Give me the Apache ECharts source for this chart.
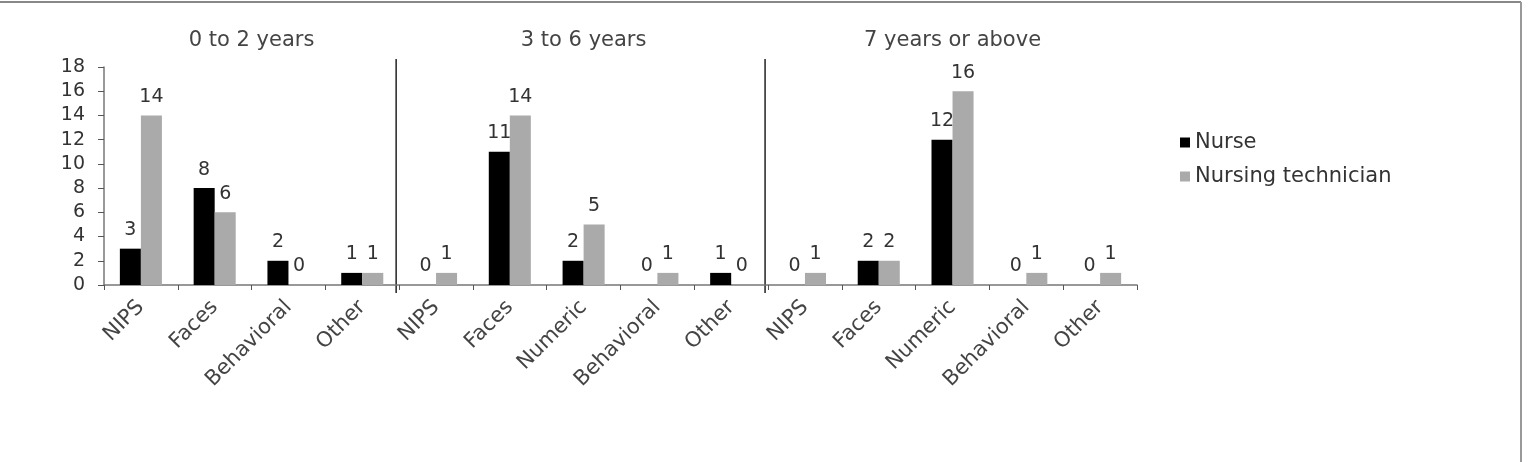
<!DOCTYPE html>
<html>
<head>
<meta charset="utf-8">
<script src="https://cdn.jsdelivr.net/npm/echarts@6/dist/echarts.min.js"></script>
<style>
  html,body{margin:0;padding:0;background:#fff;}
  #chart{width:1529px;height:462px;}
</style>
</head>
<body>
<div id="chart"></div>
<script>
(function(){
    var categories = ['NIPS','Faces','Behavioral','Other',
                      'NIPS','Faces','Numeric','Behavioral','Other',
                      'NIPS','Faces','Numeric','Behavioral','Other'];
    var nurse = [3,8,2,1, 0,11,2,0,1, 0,2,12,0,0];
    var technician = [14,6,0,1, 1,14,5,1,0, 1,2,16,1,1];
    var groups = ['0 to 2 years','3 to 6 years','7 years or above'];
    var groupSizes = [4,5,5];
    var yTicks = {min:0, max:18, interval:2};

    var font = 'DejaVu Sans';
    var chart = echarts.init(document.getElementById('chart'));

    var labelStyle = {
        show:true,
        position:'top',
        distance:9,
        fontFamily:font,
        fontSize:19,
        color:'#333'
    };

    var option = {
        animation:false,
        textStyle:{fontFamily:font},
        grid:{left:104, right:392, top:67, bottom:177},
        legend:{
            orient:'vertical',
            left:1175,
            top:127,
            itemWidth:10,
            itemHeight:10,
            itemGap:13,
            icon:'rect',
            textStyle:{fontFamily:font, fontSize:21, color:'#333'},
            data:['Nurse','Nursing technician']
        },
        xAxis:{
            type:'category',
            data:categories,
            axisLine:{lineStyle:{color:'#777', width:1.5}},
            axisTick:{show:true, interval:0, length:5, lineStyle:{color:'#555'}},
            axisLabel:{interval:0, rotate:45, margin:19, fontFamily:font, fontSize:21, color:'#444'}
        },
        yAxis:{
            type:'value',
            min:yTicks.min,
            max:yTicks.max,
            interval:yTicks.interval,
            axisLine:{show:true, lineStyle:{color:'#777', width:1.5}},
            axisTick:{show:true, length:6, lineStyle:{color:'#555'}},
            splitLine:{show:false},
            axisLabel:{margin:19, fontFamily:font, fontSize:19, color:'#333'}
        },
        series:[
            {
                name:'Nurse',
                type:'bar',
                data:nurse,
                barGap:0,
                barCategoryGap:'43%',
                itemStyle:{color:'#000'},
                label:labelStyle
            },
            {
                name:'Nursing technician',
                type:'bar',
                data:technician,
                barGap:0,
                barCategoryGap:'43%',
                itemStyle:{color:'#aaaaaa'},
                label:labelStyle
            }
        ]
    };
    chart.setOption(option);

    // group separators and titles, placed from the axis
    var graphics = [];
    var start = 0;
    var step = chart.convertToPixel({xAxisIndex:0}, 1) - chart.convertToPixel({xAxisIndex:0}, 0);
    for(var i=0;i<groups.length;i++){
        var end = start + groupSizes[i];
        var left = chart.convertToPixel({xAxisIndex:0}, start) - step/2;
        var right = chart.convertToPixel({xAxisIndex:0}, end-1) + step/2;
        graphics.push({
            type:'text',
            x:(left+right)/2,
            y:41,
            style:{text:groups[i], fill:'#444', font:'21px "DejaVu Sans"', align:'center', verticalAlign:'middle'}
        });
        if(i>0){
            graphics.push({
                type:'line',
                shape:{x1:left-3, y1:59, x2:left-3, y2:293},
                style:{stroke:'#222', lineWidth:1.5}
            });
        }
        start = end;
    }
    // frame lines
    graphics.push({type:'line', shape:{x1:0, y1:2, x2:1521, y2:2}, style:{stroke:'#888', lineWidth:2}});
    graphics.push({type:'line', shape:{x1:1521, y1:2, x2:1521, y2:462}, style:{stroke:'#999', lineWidth:2}});
    chart.setOption({graphic:graphics});
})();
</script>
</body>
</html>
